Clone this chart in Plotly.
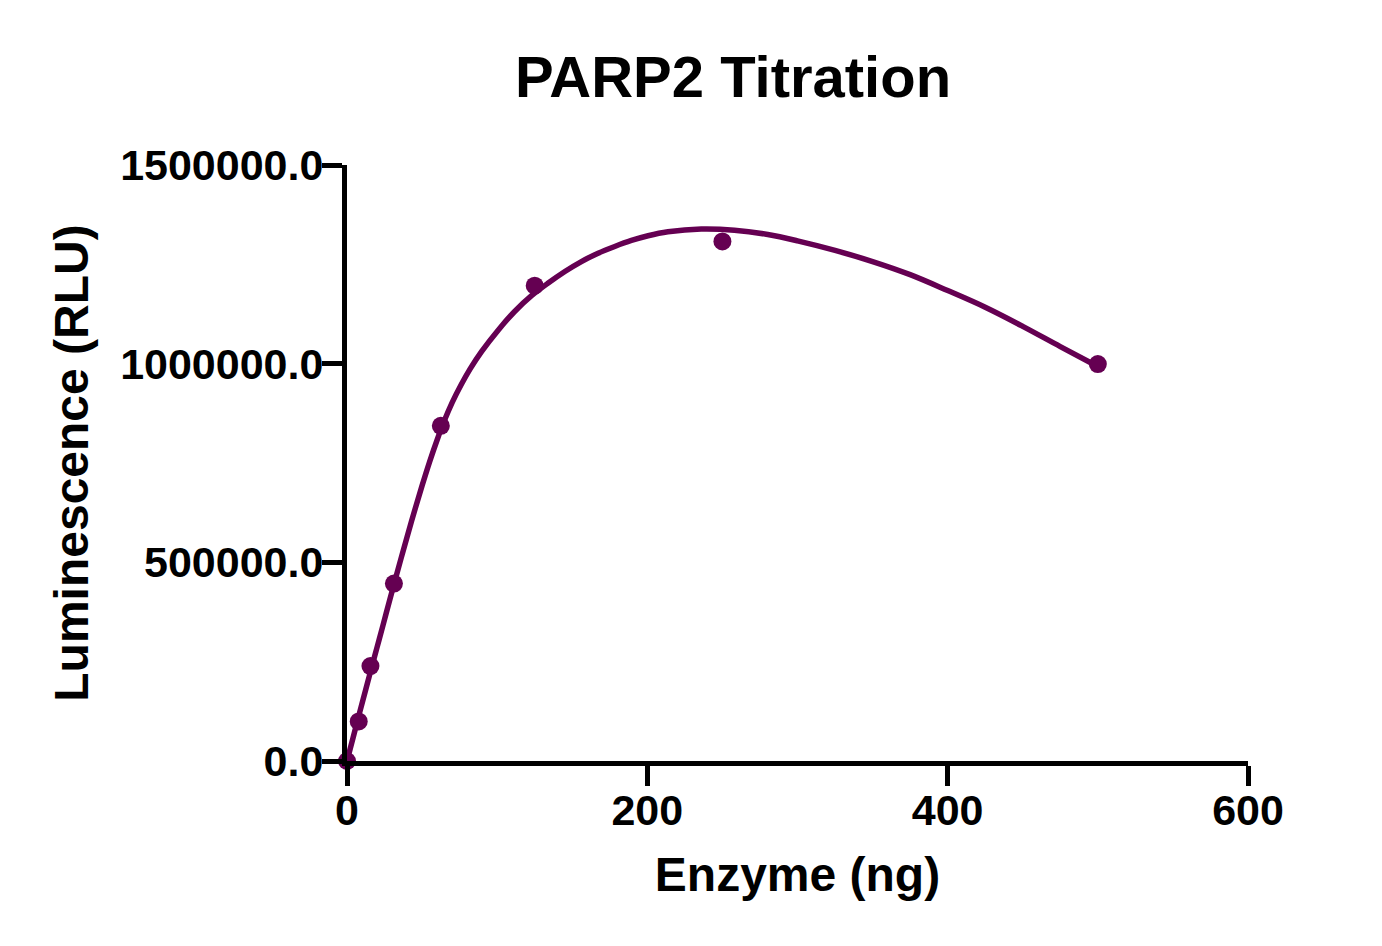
import plotly.graph_objects as go

# Measured points (enzyme amount in ng vs luminescence in RLU)
enzyme_ng = [0, 7.8125, 15.625, 31.25, 62.5, 125, 250, 500]
luminescence = [0, 99600, 239000, 446500, 843500, 1196400, 1307600, 998900]

# Fitted curve
fit_x = [0, 4, 8, 12, 16, 20, 24, 28, 32, 36, 40, 45, 50, 55, 60, 65, 70, 76, 82, 89.7, 100.8,
         111.8, 122.9, 134.0, 145.1, 156.1, 167.2, 178.3, 189.4, 200.5, 213.7, 235.9, 258.0,
         280.2, 300, 325, 350, 375, 400, 425, 450, 475, 500]
fit_y = [0, 58000, 116000, 173000, 230000, 286000, 342000, 399000, 455000, 510000, 564000,
         630000, 693000, 753000, 808000, 858000, 902000, 947000, 987000, 1031000, 1085000,
         1132000, 1171000, 1203000, 1232000, 1257000, 1278000, 1295000, 1310000, 1322000,
         1332000, 1339000, 1336000, 1325000, 1309000, 1285000, 1257000, 1224000, 1184000,
         1142000, 1094000, 1043000, 993000]

x_ticks = [0, 200, 400, 600]
y_ticks = [0, 500000, 1000000, 1500000]

color = "#650052"
font_family = "Liberation Sans, Arial, sans-serif"


def plot_parp2_titration():
    fig = go.Figure()

    # Fit line
    fig.add_trace(go.Scatter(x=fit_x, y=fit_y, mode="lines", line=dict(color=color, width=5.5, shape="spline"),
                             cliponaxis=False, hoverinfo="skip", showlegend=False))

    # Data points
    fig.add_trace(go.Scatter(x=enzyme_ng, y=luminescence, mode="markers",
                             marker=dict(color=color, size=18), cliponaxis=False, showlegend=False))

    axis_style = dict(showgrid=False, zeroline=False, showline=True, linecolor="black", linewidth=5,
                      ticks="outside", ticklen=20, tickwidth=5, tickcolor="black",
                      tickfont=dict(family=font_family, size=43, color="black", weight="bold"))

    fig.update_layout(
        width=1382, height=946,
        paper_bgcolor="white", plot_bgcolor="white",
        margin=dict(l=339, r=142, t=157, b=193),
        title=dict(text="PARP2 Titration", x=0.5246, y=0.927, xanchor="center", yanchor="middle",
                   font=dict(family=font_family, size=58, color="black", weight="bold")),
        xaxis=dict(range=[0, 600], tickvals=x_ticks, tickformat="d", ticklabelstandoff=-13,
                   title=dict(text="Enzyme (ng)", standoff=26,
                              font=dict(family=font_family, size=48, color="black", weight="bold")),
                   **axis_style),
        yaxis=dict(range=[0, 1500000], tickvals=y_ticks, tickformat=".1f", ticklabelstandoff=-10,
                   title=dict(text="Luminescence (RLU)", standoff=18,
                              font=dict(family=font_family, size=48, color="black", weight="bold")),
                   **axis_style),
    )

    fig.write_html("out.html")


if __name__ == "__main__":
    plot_parp2_titration()
